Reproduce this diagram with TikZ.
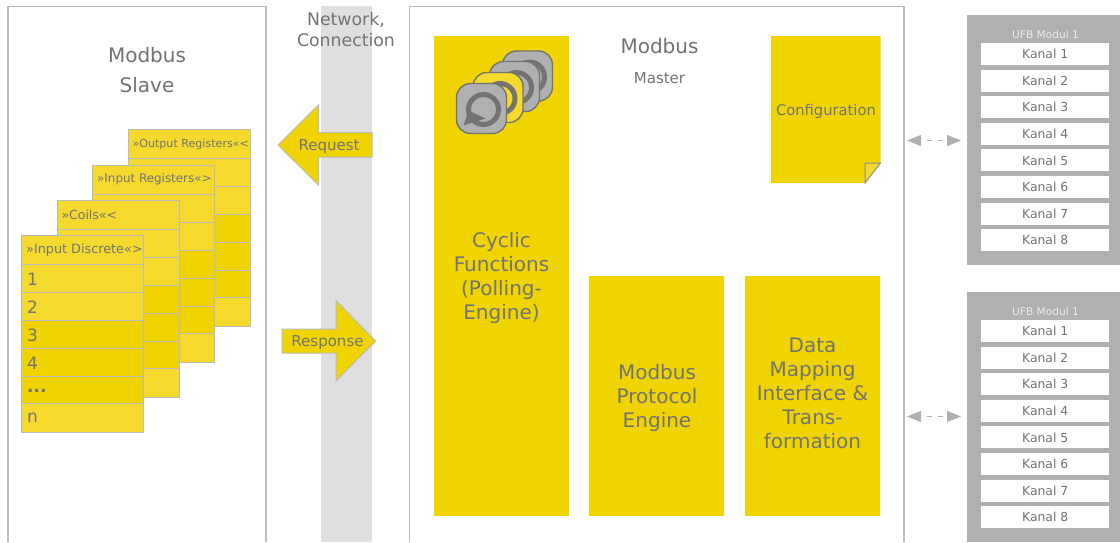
\documentclass[tikz,border=0pt]{standalone}
\usepackage{fontspec}
\setmainfont{DejaVu Sans}
\usetikzlibrary{arrows.meta}
\definecolor{ydark}{HTML}{F0D400}
\definecolor{ylight}{HTML}{F5DA2D}
\definecolor{txt}{HTML}{737373}
\definecolor{edge}{HTML}{BBBBBB}
\definecolor{modgray}{HTML}{B0B0B0}
\definecolor{band}{HTML}{DFDFDF}
\newcommand{\fsz}[1]{\fontsize{#1pt}{#1pt}\selectfont}
\tikzset{
  x=1pt,y=-1pt,
  every node/.style={text=txt,inner sep=0pt},
  frameline/.style={draw=edge,line width=1.4pt},
  block/.style={fill=ydark,anchor=north west,align=center},
  bigtext/.style={font=\fsz{20},align=center},
  regrow/.style={draw=edge,line width=1pt,anchor=north west,minimum width=122pt},
  reglabel/.style={anchor=west},
  numlabel/.style={anchor=west,font=\fsz{17}},
  flowarrow/.style={fill=ydark,draw=edge,line width=1pt,line join=miter},
  link/.style={draw=modgray,line width=1.2pt,dash pattern=on 5pt off 6pt,dash phase=5pt,
    {Triangle[length=14pt,width=11pt]}-{Triangle[length=14pt,width=11pt]}},
  kanal/.style={fill=white,anchor=north west,minimum width=128pt,minimum height=22pt,font=\fsz{12.4}},
  iconbox/.style={draw=txt,line width=1.4pt,rounded corners=14pt},
}
% register table: x, y, id, title font size, title
\newcommand{\regtable}[5]{%
  \begin{scope}[shift={(#1,#2)}]
    \node[regrow,fill=ylight,minimum height=29pt] (#3h) at (0,0) {};
    \node[regrow,fill=ylight,minimum height=28pt] (#3r1) at (0,29) {};
    \node[regrow,fill=ylight,minimum height=28pt] (#3r2) at (0,57) {};
    \node[regrow,fill=ydark,minimum height=28pt] (#3r3) at (0,85) {};
    \node[regrow,fill=ydark,minimum height=28pt] (#3r4) at (0,113) {};
    \node[regrow,fill=ydark,minimum height=27pt] (#3r5) at (0,141) {};
    \node[regrow,fill=ylight,minimum height=29pt] (#3r6) at (0,168) {};
    \node[reglabel,font=\fsz{#4}] (#3l) at (5,15) {#5};
  \end{scope}}
% icon: left, top, fill
\newcommand{\loopicon}[3]{%
  \begin{scope}[shift={(#1,#2)}]
    \path[iconbox,fill=#3] (0,0) rectangle (50,50);
    \draw[txt,line width=5pt] (27,26) circle[radius=15];
    \fill[txt] (7,42) -- (12,27) -- (29,35) -- cycle;
  \end{scope}}
\begin{document}
\begin{tikzpicture}
\useasboundingbox (0,0) rectangle (1120,542);
\clip (0,0) rectangle (1120,542);
\fill[white] (0,0) rectangle (1120,542);
% network band
\fill[band] (321,6) rectangle (372,542);
\node[font=\fsz{17.3},align=center] (net) at (346,29.5) {Network,\\[3.6pt]Connection};
% frames
\draw[frameline] (8,542) -- (8,6.5) -- (266,6.5) -- (266,542);
\draw[frameline] (409.5,542) -- (409.5,6.5) -- (904,6.5) -- (904,542);
% slave
\node[bigtext] (slave) at (147,70) {Modbus\\[10pt]Slave};
\regtable{127.5}{129}{o}{11.1}{»Output Registers«<}
\regtable{92}{164.5}{r}{11.9}{»Input Registers«>}
\regtable{56.5}{200}{c}{12.5}{»Coils«<}
\regtable{21}{235}{d}{12.8}{»Input Discrete«>}
\node[numlabel] (n1) at (27,279) {1};
\node[numlabel] (n2) at (27,307) {2};
\node[numlabel] (n3) at (27,335) {3};
\node[numlabel] (n4) at (27,363) {4};
\node[numlabel,font=\fsz{17}\bfseries] (n5) at (27,391) {...};
\node[numlabel] (n6) at (27,418) {n};
% arrows
\path[flowarrow] (278,145) -- (318.5,105) -- (318.5,132.5) -- (372,132.5) -- (372,157) -- (318.5,157) -- (318.5,185) -- cycle;
\node[font=\fsz{15}] (req) at (329,146.5) {Request};
\path[flowarrow] (375.5,341) -- (336,300.5) -- (336,329) -- (282,329) -- (282,353) -- (336,353) -- (336,381) -- cycle;
\node[font=\fsz{15}] (res) at (327.5,342.5) {Response};
% master
\node[font=\fsz{20}] (mb) at (659.5,46.5) {Modbus};
\node[font=\fsz{15}] (ma) at (659.5,78.5) {Master};
\node[block,minimum width=135pt,minimum height=480pt] (cyc) at (434,36) {};
\node[bigtext,text width=135pt] (cyct) at (501.5,278) {Cyclic\\[4pt]Functions\\[4pt](Polling-\\[4pt]Engine)};
\loopicon{502.5}{51}{modgray}
\loopicon{489.5}{61.5}{modgray}
\loopicon{473}{72.5}{ylight}
\loopicon{456.5}{83.5}{modgray}
\node[block,minimum width=135pt,minimum height=240pt] (proto) at (589,276) {};
\node[bigtext] (protot) at (657,397.5) {Modbus\\[4pt]Protocol\\[4pt]Engine};
\node[block,minimum width=135pt,minimum height=240pt] (map) at (745,276) {};
\node[bigtext] (mapt) at (812.5,393.5) {Data\\[4pt]Mapping\\[4pt]Interface \&\\[4pt]Trans-\\[4pt]formation};
% configuration page
\fill[ydark] (771,36) -- (880.5,36) -- (880.5,163) -- (865,183) -- (771,183) -- cycle;
\draw[draw=txt!80!white,fill=ylight,line width=1pt] (865,163) -- (880.5,163) -- (865,183) -- cycle;
\node[font=\fsz{14.7}] (cfg) at (826,111) {Configuration};
% UFB modules
\foreach \m/\t in {a/15,b/292}{
  \begin{scope}[shift={(967,\t)}]
    \fill[modgray] (0,0) rectangle (153,250);
    \node[font=\fsz{10.6},text=white!92!black] (\m t) at (78.5,19.5) {UFB Modul 1};
    \foreach \i in {1,...,8}{
      \node[kanal] (\m\i) at (14,{28+(\i-1)*26.57}) {Kanal \i};
    }
  \end{scope}
}
% links
\coordinate (l1a) at (907,140.5);
\coordinate (l1b) at (961,140.5);
\coordinate (l2a) at (907,416.5);
\coordinate (l2b) at (961,416.5);
\draw[link] (l1a) -- (l1b);
\draw[link] (l2a) -- (l2b);
\end{tikzpicture}
\end{document}
